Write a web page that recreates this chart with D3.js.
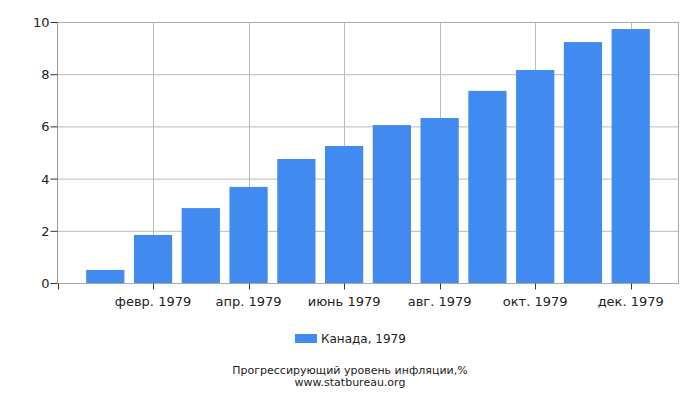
<!DOCTYPE html>
<html><head><meta charset="utf-8">
<script src="https://cdn.jsdelivr.net/npm/d3@7"></script>
<style>body{margin:0;background:#fff}text{font-family:"DejaVu Sans",sans-serif}</style>
</head><body><svg id="c" width="700" height="400"></svg>
<script>
const months = ["янв. 1979","февр. 1979","март 1979","апр. 1979","май 1979","июнь 1979","июль 1979","авг. 1979","сент. 1979","окт. 1979","нояб. 1979","дек. 1979"];
const values = [0.52,1.86,2.89,3.70,4.77,5.27,6.07,6.34,7.38,8.18,9.25,9.75];
const yTicks = [0,2,4,6,8,10];
const seriesName = "Канада, 1979";
const title = "Прогрессирующий уровень инфляции,%";
const source = "www.statbureau.org";

const svg = d3.select("#c");
const L=57.5,R=678.5,T=22.5,B=283.5;
const x = d3.scaleLinear().domain([0,13]).range([L,R]);
const y = d3.scaleLinear().domain([0,10]).range([B,T]);
const step = x(1)-x(0), bw = step*0.8;
const grid="#bbbbbb";

svg.append("g").selectAll("line").data(yTicks).join("line")
  .attr("x1",L).attr("x2",R).attr("y1",d=>y(d)).attr("y2",d=>y(d))
  .attr("stroke",grid).attr("stroke-width",1);
const labelIdx = [1,3,5,7,9,11];
svg.append("g").selectAll("line").data(labelIdx).join("line")
  .attr("x1",d=>Math.round(x(d+1))+0.5).attr("x2",d=>Math.round(x(d+1))+0.5).attr("y1",T).attr("y2",B)
  .attr("stroke",grid);
svg.append("rect").attr("x",L).attr("y",T).attr("width",R-L).attr("height",B-T)
  .attr("fill","none").attr("stroke","#aaa");

svg.append("g").selectAll("rect").data(values).join("rect")
  .attr("x",(d,i)=>x(i+1)-bw/2).attr("width",bw)
  .attr("y",d=>y(d)).attr("height",d=>B-y(d))
  .attr("fill","#418bf0");

const ya = svg.append("g");
ya.append("line").attr("x1",L).attr("x2",L).attr("y1",T).attr("y2",B).attr("stroke","#999");
ya.selectAll("line.t").data(yTicks).join("line").attr("class","t")
  .attr("x1",L-7).attr("x2",L).attr("y1",d=>y(d)).attr("y2",d=>y(d)).attr("stroke","#333");
ya.selectAll("text").data(yTicks).join("text")
  .attr("x",L-8).attr("y",d=>y(d)).attr("dy","0.35em").attr("text-anchor","end")
  .attr("font-size",13).attr("fill","#222").text(d=>d);

const xa = svg.append("g");
xa.append("line").attr("x1",L).attr("x2",R).attr("y1",B).attr("y2",B).attr("stroke","#aaa");
xa.selectAll("line.t").data([-1,...labelIdx]).join("line").attr("class","t")
  .attr("x1",d=>Math.round(x(d+1))+0.5).attr("x2",d=>Math.round(x(d+1))+0.5).attr("y1",B).attr("y2",B+6).attr("stroke","#333");
xa.selectAll("text").data(labelIdx).join("text")
  .attr("x",d=>x(d+1)).attr("y",B+22).attr("text-anchor","middle")
  .attr("font-size",13).attr("fill","#222").text(d=>months[d]);

svg.append("rect").attr("x",295).attr("y",334).attr("width",22).attr("height",9).attr("fill","#418bf0");
svg.append("text").attr("x",321).attr("y",343).attr("font-size",12).attr("fill","#222").text(seriesName);

svg.append("text").attr("x",350).attr("y",374).attr("text-anchor","middle").attr("font-size",11).attr("fill","#222").text(title);
svg.append("text").attr("x",350).attr("y",386).attr("text-anchor","middle").attr("font-size",11).attr("fill","#222").text(source);
</script></body></html>
